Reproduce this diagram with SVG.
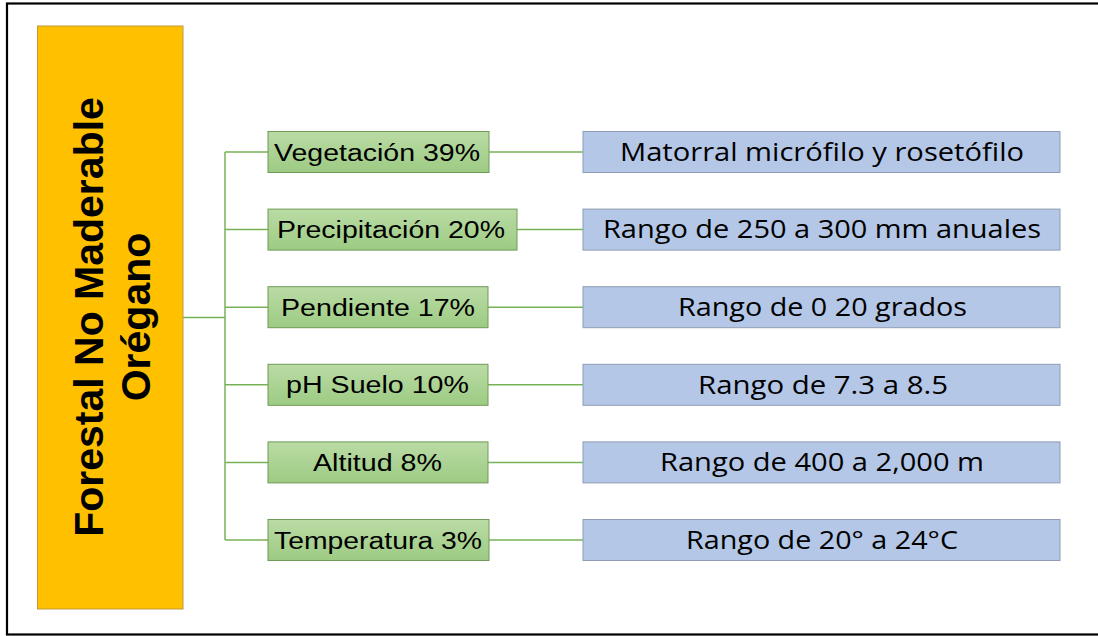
<svg xmlns="http://www.w3.org/2000/svg" width="1098" height="636" viewBox="0 0 1098 636">
<defs>
<linearGradient id="gg" x1="0" y1="0" x2="0" y2="1">
<stop offset="0" stop-color="#BADBA5"/>
<stop offset="1" stop-color="#9DCB83"/>
</linearGradient>
</defs>
<style>
.frame{fill:none;stroke:#000;stroke-width:2.2}
.main{fill:#FFC000;stroke:#BF9A3A;stroke-width:1}
.g{fill:url(#gg);stroke:#6F9A57;stroke-width:1}
.b{fill:#B4C7E7;stroke:#8E9DB5;stroke-width:1}
.gt{font-family:"Liberation Sans",Arial,sans-serif;font-size:23px;fill:#000;text-anchor:middle}
.bt{font-family:"Open Sans","Noto Sans",sans-serif;font-size:25px;fill:#000;text-anchor:middle}
.mt{font-family:"Liberation Sans",Arial,sans-serif;font-size:41px;font-weight:bold;fill:#000;text-anchor:middle}
.c{fill:none;stroke:#78B257;stroke-width:1.5}
</style>
<rect class="frame" x="7" y="3.5" width="1100" height="631"/>
<g id="connectors">
<path class="c" d="M183 317.5H225M225 152V540"/>
<path class="c" d="M225 152H268M225 229.6H268M225 307.2H268M225 384.8H268M225 462.4H268M225 540H268"/>
<path class="c" d="M489 152H583M517 229.6H583M488 307.2H583M488 384.8H583M488 462.4H583M489 540H583"/>
</g>
<g id="main">
<rect class="main" x="37.5" y="26" width="145.5" height="583"/>
<text class="mt" transform="translate(102.5,317) rotate(-90)" x="0" y="0">Forestal No Maderable</text>
<text class="mt" transform="translate(149.5,317) rotate(-90)" x="0" y="0">Orégano</text>
</g>
<g id="n1"><rect class="g" x="268" y="131.5" width="221" height="41"/><text class="gt" x="377" y="160.5" textLength="206" lengthAdjust="spacingAndGlyphs">Vegetación 39%</text></g>
<g id="n2"><rect class="g" x="268" y="209.1" width="249" height="41"/><text class="gt" x="391" y="238.1" textLength="228" lengthAdjust="spacingAndGlyphs">Precipitación 20%</text></g>
<g id="n3"><rect class="g" x="268" y="286.7" width="220" height="41"/><text class="gt" x="378" y="315.7" textLength="194" lengthAdjust="spacingAndGlyphs">Pendiente 17%</text></g>
<g id="n4"><rect class="g" x="268" y="364.3" width="220" height="41"/><text class="gt" x="377.5" y="393.3" textLength="183" lengthAdjust="spacingAndGlyphs">pH Suelo 10%</text></g>
<g id="n5"><rect class="g" x="268" y="441.9" width="220" height="41"/><text class="gt" x="377.5" y="470.9" textLength="129" lengthAdjust="spacingAndGlyphs">Altitud 8%</text></g>
<g id="n6"><rect class="g" x="268" y="519.5" width="221" height="41"/><text class="gt" x="378" y="548.5" textLength="208" lengthAdjust="spacingAndGlyphs">Temperatura 3%</text></g>
<g id="d1"><rect class="b" x="583" y="131.5" width="477" height="41"/><text class="bt" x="822" y="160.7" textLength="404" lengthAdjust="spacingAndGlyphs">Matorral micrófilo y rosetófilo</text></g>
<g id="d2"><rect class="b" x="583" y="209.1" width="477" height="41"/><text class="bt" x="822" y="238.3" textLength="438" lengthAdjust="spacingAndGlyphs">Rango de 250 a 300 mm anuales</text></g>
<g id="d3"><rect class="b" x="583" y="286.7" width="477" height="41"/><text class="bt" x="822.5" y="315.9" textLength="289" lengthAdjust="spacingAndGlyphs">Rango de 0 20 grados</text></g>
<g id="d4"><rect class="b" x="583" y="364.3" width="477" height="41"/><text class="bt" x="823" y="393.5" textLength="250" lengthAdjust="spacingAndGlyphs">Rango de 7.3 a 8.5</text></g>
<g id="d5"><rect class="b" x="583" y="441.9" width="477" height="41"/><text class="bt" x="822" y="471.1" textLength="324" lengthAdjust="spacingAndGlyphs">Rango de 400 a 2,000 m</text></g>
<g id="d6"><rect class="b" x="583" y="519.5" width="477" height="41"/><text class="bt" x="822" y="548.7" textLength="272" lengthAdjust="spacingAndGlyphs">Rango de 20° a 24°C</text></g>
</svg>
